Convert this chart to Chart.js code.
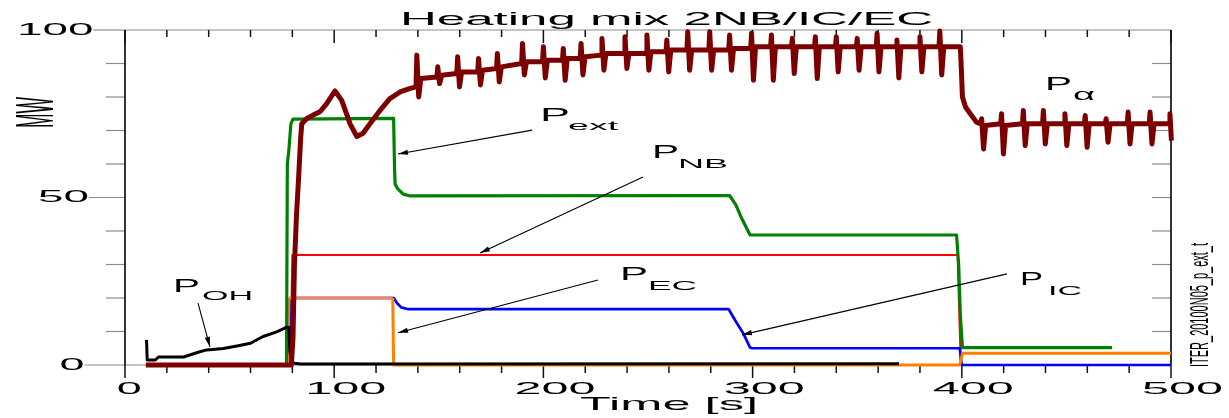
<!DOCTYPE html>
<html><head><meta charset="utf-8">
<script src="https://cdn.jsdelivr.net/npm/chart.js@4/dist/chart.umd.min.js"></script>
<style>html,body{margin:0;padding:0;background:#fff}canvas{display:block}</style>
</head><body>
<canvas id="c" width="1229" height="418"></canvas>
<script>
// ---------- DATA (time [s], power [MW]) ----------
const title = 'Heating mix 2NB/IC/EC';
const xTitle = 'Time [s]';
const yTitle = 'MW';
const sideNote = 'ITER_20100N05_p_ext_t';
const xTickValues = [0, 100, 200, 300, 400, 500];
const xTickLabels = ['0', '100', '200', '300', '400', '500'];
const yTickValues = [0, 50, 100];
const yTickLabels = ['0', '50', '100'];

const alphaRise = [
  [10,0],[79.5,0],[80.3,8],[81,30],[82,45],[83,56],[84,68],[84.5,72],[86.9,73.6],[89.9,74.6],
  [93.2,75.6],[96.4,78],[100.4,81.8],[103.6,79],[107.6,72],[110.8,68.2],[113.8,69.2],[117.1,72],
  [121.9,76],[126.6,79.5],[131.5,81.5],[136,82.5]
];
const alphaFlattop = [
  [139.1,83],[139.5,92.5],[140.4,80],[141.4,85.5],
  [149.1,86],[149.5,89],[150.4,84],[151.4,86.5],
  [158.6,87],[159,92],[159.9,83],[160.9,87.5],
  [168.6,87.5],[169,91.5],[169.9,83.6],[170.9,88],
  [177.6,88.5],[178,93],[178.9,84.5],[179.9,89],
  [189.6,90],[190,96],[190.9,86.6],[191.9,90.5],
  [199.6,90.5],[200,95],[200.9,85.7],[201.9,91],
  [209.1,91],[209.5,94.5],[210.4,85],[211.4,91.5],
  [217.6,91.5],[218,96],[218.9,86.6],[219.9,92],
  [227.6,92.5],[228,97.5],[228.9,88],[229.9,93],
  [238.6,93],[239,98],[239.9,88.5],[240.9,93],
  [249.1,93],[249.5,98.5],[250.4,88],[251.4,93.5],
  [258.6,93.5],[259,97],[259.9,87.5],[260.9,94],
  [268.6,94],[269,99.5],[269.9,88],[270.9,94],
  [279.1,94],[279.5,99.5],[280.4,88],[281.4,94],
  [288.6,94],[289,98.5],[289.9,88],[290.9,94.5],
  [299.1,94.5],[299.5,99],[300.4,85],[301.4,95],
  [308.6,95],[309,98.5],[309.9,85],[310.9,95],
  [318.6,95],[319,97.5],[319.9,87],[320.9,95],
  [329.6,95],[330,98],[330.9,85.5],[331.9,95],
  [339.6,95],[340,98],[340.9,87.5],[341.9,95],
  [349.6,95],[350,97.5],[350.9,88],[351.9,95],
  [359.1,95],[359.5,99],[360.4,87.5],[361.4,95],
  [368.6,95],[369,97],[369.9,85.7],[370.9,95],
  [379.6,95],[380,98],[380.9,87.5],[381.9,95],
  [389.1,95],[389.5,99.7],[390.4,86.6],[391.4,95],
  [399.3,95]
];
const alphaTail = [
  [399.8,88],[400.3,80],[401.8,77],[404.5,74.6],[407,72.5],
  [409.1,72],[409.5,73.5],[410.4,64.5],[411.4,71.5],
  [418.6,72],[419,75],[419.9,63],[420.9,71.5],
  [429,72],[429.4,76],[430.3,65.5],[431.3,72],
  [438.6,72],[439,76],[439.9,66],[440.9,72],
  [448.9,72],[449.3,75],[450.2,65.5],[451.2,72],
  [458.6,72],[459,74.5],[459.9,65],[460.9,72],
  [468.6,72],[469,73.5],[469.9,66.5],[470.9,72],
  [479.1,72],[479.5,75.5],[480.4,66],[481.4,72],
  [489.6,72],[490,75.5],[490.9,66],[491.9,72],
  [499.1,72],[499.5,75],[500.2,67],[500.6,72]
];
const pOH = [
  [10.3,7.5],[10.6,1.5],[14.5,1.5],[16,2.4],[28,2.4],[31,3],[35,3.8],[39,4.5],[47,4.9],[53.5,5.7],
  [60,6.5],[66,8.5],[72.5,9.9],[77.4,11.3],[78.3,11.3],[78.8,4],[79.6,1.2],[81,0.5],[84,0.3],[370,0.4]
];
const pExt = [
  [10,0],[77.2,0],[77.6,60],[78.3,64],[79.3,72],[80.3,73.4],[128.4,73.6],[128.8,60],[129.1,54],
  [130.5,52.5],[133,51],[136,50.5],[289,50.6],[292,47.8],[295,43.5],[298.8,38.8],[397.5,38.8],
  [398.5,30],[399.3,15],[400.3,5.2],[471.8,5.2]
];
const pEC = [[10,0],[77.8,0],[78.4,20],[128,20],[128.4,0],[399,0],[400.4,3.5],[500,3.5]];
const pIC = [
  [10,0],[78,0],[79,20],[128.5,20],[130,18.5],[132,17.2],[135,16.7],[288.5,16.7],[292,13],
  [295.5,9.5],[298.8,5.2],[300,5],[399,5],[400,0],[500,0]
];
const pNB = [[10,0],[79,0],[80,32.8],[398,32.8],[399.5,0],[500,0]];

// annotations: label anchor (t, MW), subscript, subscript anchor, arrow from/to (t, MW)
const notes = [
  {p:[198.4,72.8], s:'ext', sp:[211.8,70.1], pw:30, sw:50, arrow:[[194.6,70.1],[130.5,63.0]]},
  {p:[251.9,61.8], s:'NB',  sp:[264.3,58.8], pw:27, sw:50, arrow:[[247.6,56.1],[169.7,33.4]]},
  {p:[236.6,25.4], s:'EC',  sp:[250.0,22.4], pw:28, sw:49, arrow:[[226.1,25.4],[130.5,9.6]]},
  {p:[427.8,23.9], s:'IC',  sp:[441.2,20.9], pw:23, sw:34, arrow:[[421.6,27.2],[294.9,9.0]]},
  {p:[22.9,21.8],  s:'OH',  sp:[36.8,19.4],  pw:27, sw:51, arrow:[[34.9,18.5],[40.6,5.4]]},
  {p:[439.8,82.1], s:'\u03b1', sp:[453.2,79.1], pw:27, sw:22, arrow:null}
];

// ---------- helpers ----------
const FONT = '"Liberation Sans", Arial, Helvetica, sans-serif';
const toXY = arr => arr.map(([x, y]) => ({x, y}));
function fitText(ctx, str, x, y, size, width, align, rot) {
  ctx.save();
  ctx.font = size + 'px ' + FONT;
  const w = ctx.measureText(str).width;
  ctx.translate(x, y);
  if (rot) ctx.rotate(rot);
  ctx.scale(width / w, 1);
  ctx.textAlign = align || 'left';
  ctx.textBaseline = 'alphabetic';
  ctx.fillStyle = '#000';
  ctx.fillText(str, 0, 0);
  ctx.restore();
}
function seg(ctx, x1, y1, x2, y2) { ctx.beginPath(); ctx.moveTo(x1, y1); ctx.lineTo(x2, y2); ctx.stroke(); }

const frame = {
  id: 'frame',
  beforeDatasetsDraw(chart) {
    const {ctx, chartArea: a, scales: {x, y}} = chart;
    ctx.save();
    ctx.lineCap = 'butt';
    ctx.strokeStyle = '#8c8c8c'; ctx.lineWidth = 1.2;
    seg(ctx, a.left, a.bottom, a.right, a.bottom);
    seg(ctx, a.left, a.top, a.right, a.top);
    for (let v = 10; v < 100; v += 10) {
      const py = y.getPixelForValue(v);
      if (v % 50 !== 0) seg(ctx, a.left - 19, py, a.left, py);
      seg(ctx, a.right - 19, py, a.right, py);
    }
    yTickValues.forEach((v, i) => {
      const py = y.getPixelForValue(v);
      const right = 80 + 4.5 * yTickLabels[i].length;
      seg(ctx, right, py, a.left, py);
    });
    ctx.strokeStyle = '#000'; ctx.lineWidth = 1.6;
    seg(ctx, a.left, a.top, a.left, a.bottom);
    seg(ctx, a.right, a.top, a.right, a.bottom);
    ctx.strokeStyle = '#111'; ctx.lineWidth = 1.5;
    for (let t = 0; t <= 500; t += 20) {
      const px = x.getPixelForValue(t);
      const major = t % 100 === 0;
      seg(ctx, px, a.top, px, a.top + (major ? 13 : 7));
      seg(ctx, px, a.bottom, px, a.bottom + (major ? 13 : 8));
    }
    ctx.restore();
  },
  afterDraw(chart) {
    const {ctx, chartArea: a, scales: {x, y}} = chart;
    ctx.save();
    fitText(ctx, title, 400, 25, 18, 533, 'left');
    fitText(ctx, xTitle, 580, 410, 19, 178, 'left');
    fitText(ctx, yTitle, 53, 128, 53, 31, 'left', -Math.PI / 2);
    fitText(ctx, sideNote, 1208, 367, 25, 124, 'left', -Math.PI / 2);
    xTickValues.forEach((v, i) => {
      const lab = xTickLabels[i];
      const w = lab.length === 1 ? 25 : 27 * lab.length;
      fitText(ctx, lab, x.getPixelForValue(v) + 0.13 * w + 1, 394, 16, w, 'center');
    });
    yTickValues.forEach((v, i) => {
      const lab = yTickLabels[i];
      const w = lab.length === 1 ? 25 : 25.5 * lab.length;
      fitText(ctx, lab, 80 + 4.5 * lab.length, y.getPixelForValue(v) + 4.5, 17, w, 'right');
    });
    notes.forEach(n => {
      fitText(ctx, 'P', x.getPixelForValue(n.p[0]), y.getPixelForValue(n.p[1]), 18, n.pw, 'left');
      fitText(ctx, n.s, x.getPixelForValue(n.sp[0]), y.getPixelForValue(n.sp[1]), n.s === '\u03b1' ? 16 : 12.5, n.sw, 'left');
      if (n.arrow) {
        const x1 = x.getPixelForValue(n.arrow[0][0]), y1 = y.getPixelForValue(n.arrow[0][1]);
        const x2 = x.getPixelForValue(n.arrow[1][0]), y2 = y.getPixelForValue(n.arrow[1][1]);
        ctx.strokeStyle = '#000'; ctx.lineWidth = 1.1;
        seg(ctx, x1, y1, x2, y2);
        const ang = Math.atan2(y2 - y1, x2 - x1), L = 10, H = 2.6;
        ctx.beginPath();
        ctx.moveTo(x2, y2);
        ctx.lineTo(x2 - L * Math.cos(ang) + H * Math.sin(ang), y2 - L * Math.sin(ang) - H * Math.cos(ang));
        ctx.lineTo(x2 - L * Math.cos(ang) - H * Math.sin(ang), y2 - L * Math.sin(ang) + H * Math.cos(ang));
        ctx.closePath(); ctx.fillStyle = '#000'; ctx.fill();
      }
    });
    ctx.restore();
  }
};

const common = {pointRadius: 0, tension: 0, fill: false, clip: false, borderJoinStyle: 'round', borderCapStyle: 'butt'};
new Chart(document.getElementById('c'), {
  type: 'line',
  data: {
    datasets: [
      Object.assign({label: 'P_alpha', data: toXY(alphaRise.concat(alphaFlattop, alphaTail)), borderColor: '#7d0000', borderWidth: 5}, common),
      Object.assign({label: 'P_OH', data: toXY(pOH), borderColor: '#000000', borderWidth: 3}, common),
      Object.assign({label: 'P_ext', data: toXY(pExt), borderColor: '#008000', borderWidth: 3.2}, common),
      Object.assign({label: 'P_EC', data: toXY(pEC), borderColor: '#ff8000', borderWidth: 3,
        segment: {borderColor: c => (c.p1.parsed.x <= 128.1 && c.p0.parsed.x >= 78.3 ? '#ea8660' : undefined)}}, common),
      Object.assign({label: 'P_IC', data: toXY(pIC), borderColor: '#0000ff', borderWidth: 2.7}, common),
      Object.assign({label: 'P_NB', data: toXY(pNB), borderColor: '#ff0000', borderWidth: 2}, common)
    ]
  },
  options: {
    responsive: false,
    animation: false,
    events: [],
    layout: {padding: {left: 125, right: 58, top: 30, bottom: 53}},
    plugins: {legend: {display: false}, tooltip: {enabled: false}},
    scales: {
      x: {type: 'linear', min: 0, max: 500, display: false},
      y: {type: 'linear', min: 0, max: 100, display: false}
    }
  },
  plugins: [frame]
});
</script>
</body></html>
